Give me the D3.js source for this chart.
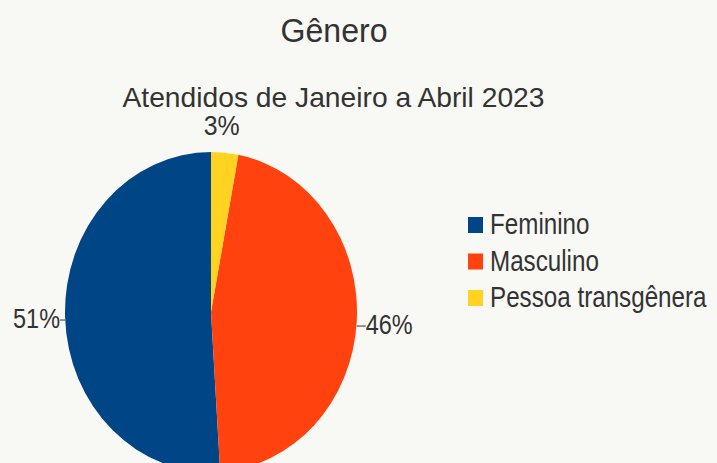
<!DOCTYPE html>
<html>
<head>
<meta charset="utf-8">
<script src="https://cdn.jsdelivr.net/npm/d3@7"></script>
<style>
  html, body { margin: 0; padding: 0; background: #f8f8f4; }
  svg { display: block; }
  text { font-family: "Liberation Sans", Arial, sans-serif; fill: #333; }
</style>
</head>
<body>
<svg id="chart" width="717" height="463"></svg>
<script>
// Gender breakdown of people attended, Jan–Apr 2023
const categories = ["Feminino", "Masculino", "Pessoa transgênera"];
const values = [51, 46, 3];
const colors = ["#004586", "#ff420e", "#ffd320"];
const title = "Gênero";
const subtitle = "Atendidos de Janeiro a Abril 2023";

const svg = d3.select("#chart");
const W = 717, H = 463;
svg.append("rect").attr("width", W).attr("height", H).attr("fill", "#f8f8f4");

// Text helper: font size sets the height, textLength the width
function label(parent, str, x, y, size, len, anchor) {
  return parent.append("text").attr("x", x).attr("y", y)
    .attr("text-anchor", anchor || "start").attr("font-size", size)
    .attr("textLength", len).attr("lengthAdjust", "spacingAndGlyphs")
    .text(str);
}

label(svg, title, 334, 42, 33, 107, "middle");
label(svg, subtitle, 333.5, 107, 28, 422, "middle");

// Pie: slices run counter-clockwise from 12 o'clock; drawn slightly taller than wide
const cx = 211, cy = 312, r = 146, sy = 160 / 146;
const pie = d3.pie().sort(null).value(d => d)
  .startAngle(0).endAngle(-2 * Math.PI);
const arcs = pie(values);
const arc = d3.arc().innerRadius(0).outerRadius(r);

const g = svg.append("g").attr("transform", `translate(${cx},${cy}) scale(1,${sy})`);
g.selectAll("path").data(arcs).join("path")
  .attr("d", arc)
  .attr("fill", (d, i) => colors[i]);

// Percentage labels outside the slices
const total = d3.sum(values);
const fmt = v => Math.round(v / total * 100) + "%";
arcs.forEach((d, i) => {
  const a = (d.startAngle + d.endAngle) / 2;
  const ex = cx + Math.sin(a) * r, ey = cy - Math.cos(a) * r * sy;
  const txt = fmt(values[i]);
  if (i === 2) {
    label(svg, txt, ex - 3, ey - 18, 27, 36, "middle");
  } else if (Math.sin(a) < 0) {
    svg.append("line").attr("x1", ex).attr("y1", ey + 3).attr("x2", ex - 5).attr("y2", ey + 3)
      .attr("stroke", "#333").attr("stroke-width", 1);
    label(svg, txt, ex - 5, ey + 11, 27, 47, "end");
  } else {
    svg.append("line").attr("x1", ex).attr("y1", ey + 4).attr("x2", ex + 9).attr("y2", ey + 4)
      .attr("stroke", "#333").attr("stroke-width", 1);
    label(svg, txt, ex + 9, ey + 12, 27, 47, "start");
  }
});

// Legend: entries stretched slightly vertically
const legend = svg.append("g").attr("transform", "translate(468,217)");
const row = legend.selectAll("g").data(categories).join("g")
  .attr("transform", (d, i) => `translate(0,${i * 36.5})`);
row.append("rect").attr("width", 15).attr("height", 16)
  .attr("fill", (d, i) => colors[i]);
row.append("text")
  .attr("transform", "translate(22,17) scale(1,1.2)")
  .attr("font-size", 24.2).text(d => d);
</script>
</body>
</html>
